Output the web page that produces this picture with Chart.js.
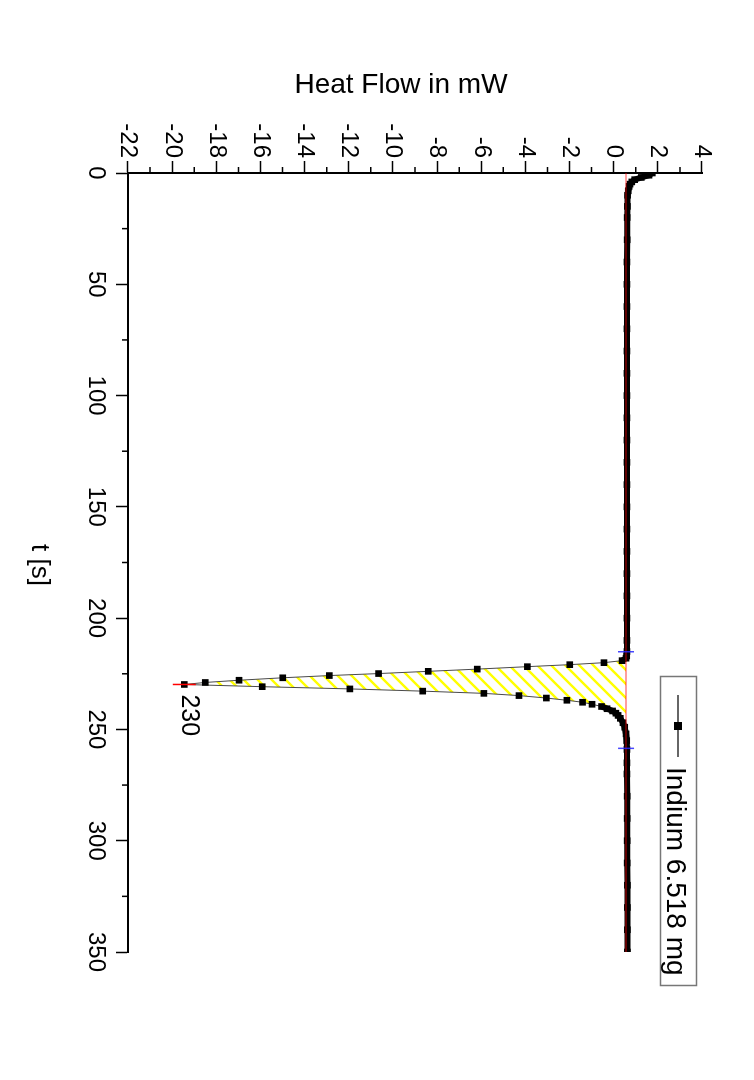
<!DOCTYPE html>
<html>
<head>
<meta charset="utf-8">
<script src="https://cdn.jsdelivr.net/npm/chart.js@4.4.0/dist/chart.umd.min.js"></script>
<style>
  html, body { margin: 0; padding: 0; background: #fff; }
  body { width: 754px; height: 1080px; overflow: hidden; position: relative; }
  /* the whole plot is turned a quarter turn clockwise */
  #wrap { position: absolute; left: 0; top: 0; width: 1080px; height: 754px;
          transform-origin: 0 0; transform: translate(754px, 0) rotate(90deg); }
</style>
</head>
<body>
<div id="wrap"><canvas id="dsc" width="1080" height="754"></canvas></div>
<script>
// measured DSC trace (time in s, heat flow in mW)
const timeS = [0, 1, 2, 3, 4, 5, 6, 8, 10, 15, 20, 30, 40, 50, 60, 70, 80, 90, 100,
  110, 120, 130, 140, 150, 160, 170, 180, 190, 200, 210, 215, 217, 218,
  219.1, 220.0, 220.9, 221.8, 222.9, 223.9, 224.9, 225.8, 226.8, 227.9, 228.9, 229.8,
  230.8, 231.8, 232.8, 233.8, 234.8, 235.9, 236.9, 237.8, 238.7, 239.7,
  240.7, 241.7, 242.7, 243.7, 245, 247, 249, 252, 255, 259, 265, 270,
  280, 290, 300, 310, 320, 330, 340, 350];
const heatFlow = [1.75, 1.6, 1.25, 0.95, 0.82, 0.74, 0.7, 0.66, 0.63, 0.62, 0.61, 0.61, 0.6, 0.6, 0.6, 0.6, 0.6, 0.6, 0.6,
  0.6, 0.6, 0.6, 0.6, 0.6, 0.6, 0.6, 0.6, 0.6, 0.6, 0.6, 0.6, 0.59, 0.56,
  0.38, -0.44, -1.99, -3.91, -6.18, -8.4, -10.65, -12.88, -14.99, -16.97, -18.5, -19.45,
  -15.92, -11.95, -8.65, -5.88, -4.29, -3.05, -2.12, -1.41, -0.98, -0.55,
  -0.3, -0.05, 0.1, 0.2, 0.3, 0.42, 0.5, 0.56, 0.59, 0.6, 0.6, 0.6,
  0.61, 0.61, 0.61, 0.61, 0.62, 0.62, 0.62, 0.62];

// integration baseline and limits
const baselineValue = 0.56;
const limitTimes = [215.1, 258.5];

// axes
const tRange = [0, 350];
const hfRange = [-22, 4];
const tMajor = 50, tMinor = 25;
const hfMajor = 2, hfMinor = 1;

const seriesLabel = 'Indium 6.518 mg';
const font = 'Liberation Sans';

// peak = most negative point
let peakIdx = 0;
heatFlow.forEach((v, i) => { if (v < heatFlow[peakIdx]) peakIdx = i; });

const points = timeS.map((t, i) => ({ x: t, y: heatFlow[i] }));
const areaPoints = points.filter(p => p.x >= limitTimes[0] && p.x <= limitTimes[1]);

// yellow hatch
function makeHatch() {
  const s = 14;
  const c = document.createElement('canvas');
  c.width = s; c.height = s;
  const g = c.getContext('2d');
  g.strokeStyle = '#ffff00';
  g.lineWidth = 2.4;
  g.beginPath();
  g.moveTo(0, s); g.lineTo(s, 0);
  g.moveTo(-2, 2); g.lineTo(2, -2);
  g.moveTo(s - 2, s + 2); g.lineTo(s + 2, s - 2);
  g.stroke();
  return g.createPattern(c, 'repeat');
}

function inPeak(c) {
  return c.p0.parsed.x >= 219 && c.p1.parsed.x <= 240;
}

// minor ticks, titles, legend and peak label
const decor = {
  id: 'decor',
  afterDraw(chart) {
    const ctx = chart.ctx;
    const xs = chart.scales.x, ys = chart.scales.y;
    const a = chart.chartArea;
    ctx.save();
    ctx.strokeStyle = '#000';
    ctx.lineWidth = 1.5;
    ctx.beginPath();
    for (let t = tRange[0]; t <= tRange[1]; t += tMinor) {
      if (t % tMajor === 0) continue;
      const px = xs.getPixelForValue(t);
      ctx.moveTo(px, a.bottom); ctx.lineTo(px, a.bottom + 6);
    }
    for (let v = hfRange[0]; v <= hfRange[1]; v += hfMinor) {
      if (v % hfMajor === 0) continue;
      const py = ys.getPixelForValue(v);
      ctx.moveTo(a.left, py); ctx.lineTo(a.left - 6, py);
    }
    ctx.stroke();

    ctx.fillStyle = '#000';
    // axis titles
    ctx.font = '28px "' + font + '"';
    ctx.textAlign = 'center';
    ctx.textBaseline = 'alphabetic';
    ctx.save();
    ctx.translate(93, 353);
    ctx.rotate(-Math.PI / 2);
    ctx.fillText('Heat Flow in mW', 0, 0);
    ctx.restore();
    ctx.font = '26px "' + font + '"';
    ctx.fillText('t [s]', 565, 722);

    // peak label
    const pk = chart.getDatasetMeta(3).data[peakIdx];
    ctx.font = '25px "' + font + '"';
    ctx.textAlign = 'left';
    ctx.fillText(String(Math.round(timeS[peakIdx])), pk.x + 10, pk.y + 2);

    // legend box
    ctx.strokeStyle = '#777';
    ctx.lineWidth = 1.5;
    ctx.strokeRect(676.5, 57.5, 309, 36);
    ctx.strokeStyle = '#333';
    ctx.beginPath();
    ctx.moveTo(695, 76); ctx.lineTo(757, 76);
    ctx.stroke();
    ctx.fillRect(722, 72, 8, 8);
    ctx.font = '28px "' + font + '"';
    ctx.fillText(seriesLabel, 767, 87);
    ctx.restore();
  }
};

const chart = new Chart(document.getElementById('dsc'), {
  type: 'line',
  data: {
    datasets: [
      { // peak marker
        data: [points[peakIdx]],
        showLine: false,
        pointStyle: 'line', rotation: 90, pointRadius: 11.5,
        pointBorderColor: '#ff0000', pointBorderWidth: 1.5,
        order: 0
      },
      { // integration limits
        data: limitTimes.map(t => ({ x: t, y: baselineValue })),
        showLine: false,
        pointStyle: 'line', rotation: 90, pointRadius: 8,
        pointBorderColor: 'rgba(40,40,255,0.85)', pointBorderWidth: 1.5,
        order: 1
      },
      { // baseline
        data: [{ x: tRange[0], y: baselineValue }, { x: tRange[1], y: baselineValue }],
        borderColor: 'rgba(255,0,0,0.5)', borderWidth: 1.5,
        pointRadius: 0,
        order: 2
      },
      {
        label: seriesLabel,
        data: points,
        borderColor: '#000', borderWidth: 6,
        pointStyle: 'rect', pointRadius: 4.7,
        pointBackgroundColor: '#000', pointBorderWidth: 0,
        segment: {
          borderWidth: c => inPeak(c) ? 1 : 6,
          borderColor: c => inPeak(c) ? '#4a4a4a' : '#000'
        },
        order: 3
      },
      { // hatched area
        data: areaPoints,
        borderWidth: 0, pointRadius: 0,
        backgroundColor: makeHatch(),
        fill: { value: baselineValue },
        order: 4
      }
    ]
  },
  options: {
    responsive: false,
    animation: false,
    events: [],
    layout: { padding: { top: 52, right: 128, left: 0, bottom: 0 } },
    plugins: { legend: { display: false }, tooltip: { enabled: false } },
    scales: {
      x: {
        type: 'linear', min: tRange[0], max: tRange[1],
        afterFit: s => { s.height = 128; },
        ticks: { stepSize: tMajor, autoSkip: false, maxRotation: 0, padding: 6,
                 color: '#000', font: { family: font, size: 24 } },
        grid: { drawOnChartArea: false, drawTicks: true, tickLength: 12,
                tickColor: '#000', tickWidth: 1.5 },
        border: { display: true, color: '#000', width: 2 }
      },
      y: {
        type: 'linear', min: hfRange[0], max: hfRange[1],
        afterFit: s => { s.width = 173; },
        ticks: { stepSize: hfMajor, autoSkip: false, padding: 3,
                 color: '#000', font: { family: font, size: 24 } },
        grid: { drawOnChartArea: false, drawTicks: true, tickLength: 12,
                tickColor: '#000', tickWidth: 1.5 },
        border: { display: true, color: '#000', width: 2 }
      }
    }
  },
  plugins: [decor]
});
</script>
</body>
</html>
